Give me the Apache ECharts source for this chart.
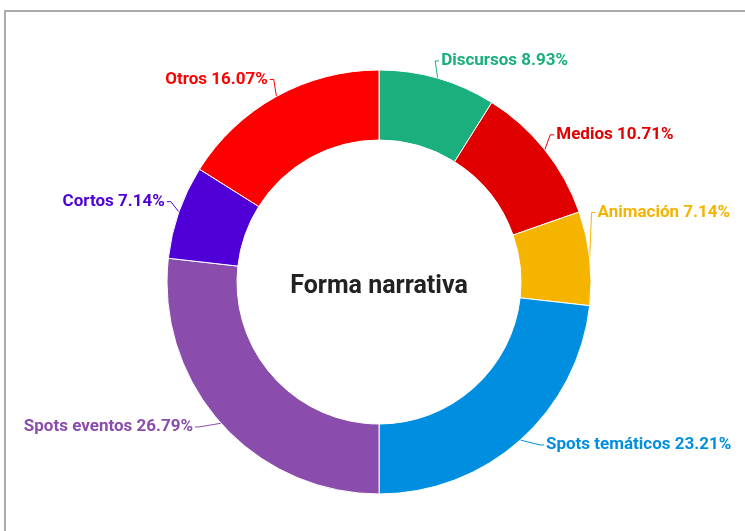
<!DOCTYPE html>
<html>
<head>
<meta charset="utf-8">
<script src="https://cdn.jsdelivr.net/npm/echarts@6/dist/echarts.min.js"></script>
<style>
  html, body { margin: 0; padding: 0; background: #fff; overflow: hidden; }
  #frame { position: absolute; left: 4px; top: 10px; width: 760px; height: 540px;
           border: 2px solid #aaa; box-sizing: border-box; }
  #chart { position: absolute; left: 0; top: 0; width: 745px; height: 531px; }
</style>
</head>
<body>
<div id="frame"></div>
<div id="chart"></div>
<script>
// datos del gráfico
const categories = ['Discursos', 'Medios', 'Animación', 'Spots temáticos', 'Spots eventos', 'Cortos', 'Otros']
const values = [8.93, 10.71, 7.14, 23.21, 26.79, 7.14, 16.07]
const colors = ['#1aaf7c', '#e10000', '#f5b400', '#008fe0', '#8a4dab', '#4f00d6', '#ff0000']
const title = 'Forma narrativa'

// ajuste de las etiquetas (como en el original)
const labelShiftX = [-7, -7, -14, 9, -10, 7, 5]
const labelShiftY = [-2, -5, -44, -7, -7, -5, -3]

const myChart = echarts.init(document.getElementById('chart'))
const option = {
  animation: false,
  title: {
    text: title,
    left: 374,
    top: 269,
    textAlign: 'center',
    textStyle: {
      fontFamily: 'Roboto',
      fontSize: 25,
      fontWeight: 'bold',
      color: '#222'
    }
  },
  series: [
    {
      type: 'pie',
      center: [379, 282],
      radius: [142, 212],
      startAngle: 90,
      clockwise: true,
      itemStyle: {
        borderColor: '#fff',
        borderWidth: 1
      },
      label: {
        show: true,
        overflow: 'none',
        fontFamily: 'Roboto',
        fontSize: 17,
        fontWeight: 'bold',
        distanceToLabelLine: 2,
        formatter: function (p) {
          return p.name + ' ' + p.value.toFixed(2) + '%'
        }
      },
      labelLine: {
        show: true,
        length: 16,
        length2: 4,
        lineStyle: { width: 1 }
      },
      labelLayout: function (params) {
        const i = params.dataIndex
        const dx = labelShiftX[i]
        const dy = labelShiftY[i]
        const pts = params.labelLinePoints
        const out = { dx: dx, dy: dy }
        if (pts) {
          out.labelLinePoints = [
            pts[0],
            [pts[1][0] + dx, pts[1][1] + dy],
            [pts[2][0] + dx, pts[2][1] + dy]
          ]
        }
        return out
      },
      data: categories.map(function (c, i) {
        return { name: c, value: values[i], itemStyle: { color: colors[i] }, label: { color: colors[i] } }
      })
    }
  ]
}
myChart.setOption(option)
</script>
</body>
</html>
